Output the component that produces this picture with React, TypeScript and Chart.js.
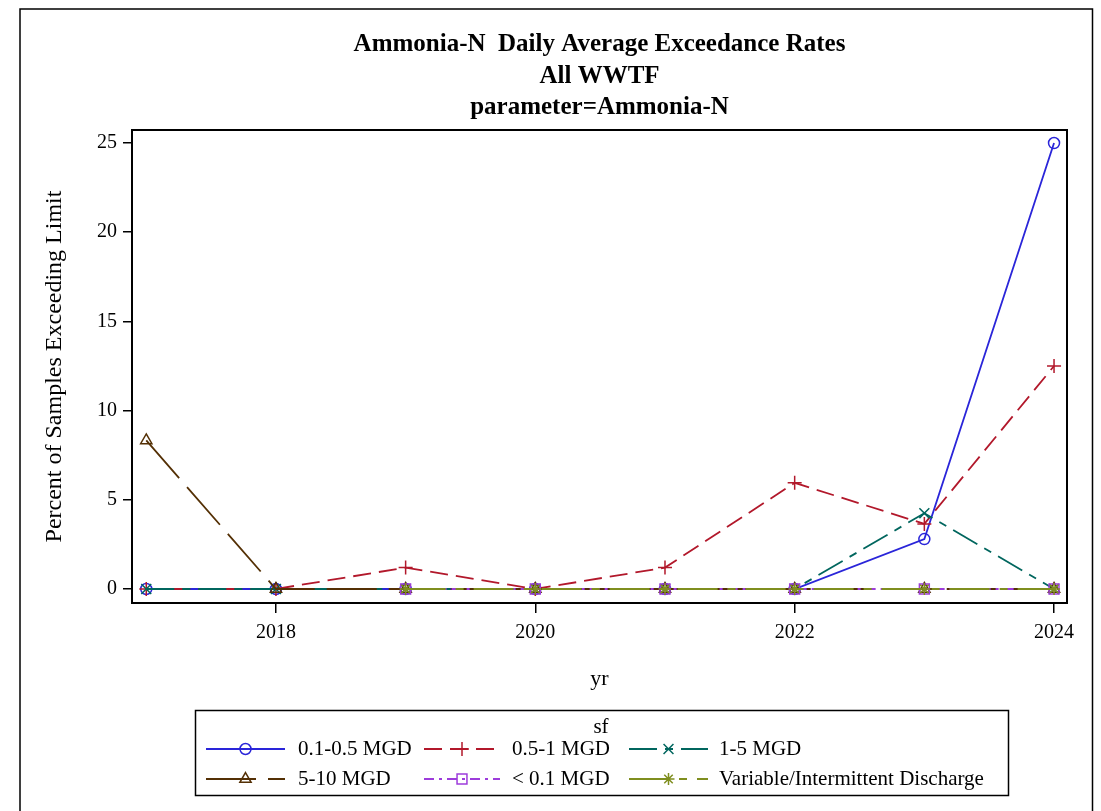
import React, { useEffect, useRef } from 'react';
import { Chart, registerables } from 'chart.js';

Chart.register(...registerables);

const years = [2017, 2018, 2019, 2020, 2021, 2022, 2023, 2024];
const seriesNames = ['0.1-0.5 MGD', '0.5-1 MGD', '1-5 MGD', '5-10 MGD', '< 0.1 MGD', 'Variable/Intermittent Discharge'];
const mgd01to05 = [0, 0, 0, 0, 0, 0, 2.8, 25];
const mgd05to1 = [0, 0, 1.2, 0, 1.2, 5.95, 3.65, 12.5];
const mgd1to5 = [0, 0, 0, 0, 0, 0, 4.25, 0];
const mgd5to10 = [8.33, 0, 0, 0, 0, 0, 0, 0];
const mgdUnder01 = [null, null, 0, 0, 0, 0, 0, 0];
const variableDischarge = [null, null, 0, 0, 0, 0, 0, 0];
const xTicks = [2018, 2020, 2022, 2024];
const yTicks = [0, 5, 10, 15, 20, 25];
const titleLines = ['Ammonia-N  Daily Average Exceedance Rates', 'All WWTF', 'parameter=Ammonia-N'];
const xTitle = 'yr';
const yTitle = 'Percent of Samples Exceeding Limit';
const legendTitle = 'sf';

const seriesValues = [mgd01to05, mgd05to1, mgd1to5, mgd5to10, mgdUnder01, variableDischarge];
const colors = ['#2A25D9', '#B2182B', '#01665E', '#543005', '#9D3CDB', '#7F8E1F'];
const dashes: number[][] = [[], [18, 8], [28, 8, 8, 8], [50, 12], [10, 5, 3, 5], [40, 10, 8, 10]];
const markers = ['circle', 'cross', 'crossRot', 'triangle', 'rect', 'star'];
const markerRadius = [5.5, 7, 7, 6.5, 7, 6];

const FONT = "'Liberation Serif', 'Times New Roman', serif";

function drawMarker(ctx: CanvasRenderingContext2D, style: string, x: number, y: number, r: number, color: string) {
  ctx.save();
  ctx.strokeStyle = color;
  ctx.lineWidth = 1.5;
  ctx.setLineDash([]);
  ctx.beginPath();
  const d = r * Math.SQRT1_2;
  if (style === 'circle') {
    ctx.arc(x, y, r, 0, Math.PI * 2);
  } else if (style === 'cross') {
    ctx.moveTo(x - r, y); ctx.lineTo(x + r, y);
    ctx.moveTo(x, y - r); ctx.lineTo(x, y + r);
  } else if (style === 'crossRot') {
    ctx.moveTo(x - d, y - d); ctx.lineTo(x + d, y + d);
    ctx.moveTo(x - d, y + d); ctx.lineTo(x + d, y - d);
  } else if (style === 'triangle') {
    ctx.moveTo(x, y - r);
    ctx.lineTo(x + r * 0.866, y + r * 0.5);
    ctx.lineTo(x - r * 0.866, y + r * 0.5);
    ctx.closePath();
  } else if (style === 'rect') {
    ctx.rect(x - d, y - d, 2 * d, 2 * d);
  } else if (style === 'star') {
    ctx.moveTo(x - r, y); ctx.lineTo(x + r, y);
    ctx.moveTo(x, y - r); ctx.lineTo(x, y + r);
    ctx.moveTo(x - d, y - d); ctx.lineTo(x + d, y + d);
    ctx.moveTo(x - d, y + d); ctx.lineTo(x + d, y - d);
  }
  ctx.stroke();
  ctx.restore();
}

const decorPlugin = {
  id: 'decor',
  afterDraw(chart: any) {
    const ctx: CanvasRenderingContext2D = chart.ctx;
    const area = chart.chartArea;
    ctx.save();
    // outer border (open at the bottom)
    ctx.strokeStyle = '#000';
    ctx.lineWidth = 1.5;
    ctx.beginPath();
    ctx.moveTo(20, 811);
    ctx.lineTo(20, 9);
    ctx.lineTo(1092.5, 9);
    ctx.lineTo(1092.5, 811);
    ctx.stroke();

    // plot frame
    ctx.lineWidth = 2;
    ctx.strokeRect(area.left, area.top, area.right - area.left, area.bottom - area.top);

    // titles
    ctx.fillStyle = '#000';
    ctx.textAlign = 'center';
    ctx.textBaseline = 'middle';
    ctx.font = `bold 25px ${FONT}`;
    const cx = (area.left + area.right) / 2;
    const ty = [45, 77, 108];
    titleLines.forEach((t, i) => ctx.fillText(t, cx, ty[i]));

    // axis titles
    ctx.font = `22px ${FONT}`;
    ctx.fillText(xTitle, cx, 679);
    ctx.font = `24px ${FONT}`;
    ctx.save();
    ctx.translate(55, (area.top + area.bottom) / 2);
    ctx.rotate(-Math.PI / 2);
    ctx.fillText(yTitle, 0, 0);
    ctx.restore();

    // legend
    ctx.lineWidth = 1.5;
    ctx.strokeRect(195.5, 710.5, 813, 85);
    ctx.font = `21px ${FONT}`;
    ctx.fillText(legendTitle, 601, 727);
    const colSample = [[206, 285], [424, 500], [629, 708]];
    const colText = [298, 512, 719];
    const rowY = [749, 779];
    seriesNames.forEach((name, i) => {
      const col = i % 3;
      const row = Math.floor(i / 3);
      const y = rowY[row];
      const [x0, x1] = colSample[col];
      ctx.save();
      ctx.strokeStyle = colors[i];
      ctx.lineWidth = 1.8;
      ctx.setLineDash(dashes[i]);
      ctx.beginPath();
      ctx.moveTo(x0, y);
      ctx.lineTo(x1, y);
      ctx.stroke();
      ctx.restore();
      drawMarker(ctx, markers[i], (x0 + x1) / 2, y, markerRadius[i], colors[i]);
      ctx.textAlign = 'left';
      ctx.fillStyle = '#000';
      ctx.fillText(name, colText[col], y);
    });
    ctx.restore();
  },
};

export default function App() {
  const canvasRef = useRef<HTMLCanvasElement>(null);

  useEffect(() => {
    const canvas = canvasRef.current;
    if (!canvas) return;
    const datasets = seriesNames.map((name, i) => ({
      label: name,
      data: years.map((yr, j) => ({ x: yr, y: seriesValues[i][j] })),
      borderColor: colors[i],
      backgroundColor: colors[i],
      borderWidth: 1.8,
      borderDash: dashes[i],
      pointStyle: markers[i],
      pointRadius: markerRadius[i],
      pointBorderWidth: 1.5,
      pointBorderColor: colors[i],
      pointBackgroundColor: 'rgba(0,0,0,0)',
      pointHoverRadius: markerRadius[i],
      tension: 0,
      fill: false,
      spanGaps: false,
      order: seriesNames.length - i,
    }));

    const chart = new Chart(canvas, {
      type: 'line',
      data: { datasets },
      options: {
        animation: false,
        responsive: false,
        maintainAspectRatio: false,
        events: [],
        layout: { padding: { left: 0, top: 130, right: 34, bottom: 0 } },
        plugins: {
          legend: { display: false },
          title: { display: false },
          tooltip: { enabled: false },
        },
        scales: {
          x: {
            type: 'linear',
            min: 2016.89,
            max: 2024.1,
            afterFit: (scale: any) => { scale.height = 208; },
            afterBuildTicks: (scale: any) => { scale.ticks = xTicks.map((v) => ({ value: v })); },
            grid: { display: true, drawOnChartArea: false, drawTicks: true, tickLength: 10, color: '#000', lineWidth: 1.5 },
            border: { display: false },
            ticks: {
              color: '#000',
              font: { family: FONT, size: 20 },
              padding: 8,
              maxRotation: 0,
              autoSkip: false,
              callback: (v: any) => String(v),
            },
          },
          y: {
            type: 'linear',
            min: -0.785,
            max: 25.73,
            afterFit: (scale: any) => { scale.width = 132; },
            afterBuildTicks: (scale: any) => { scale.ticks = yTicks.map((v) => ({ value: v })); },
            grid: { display: true, drawOnChartArea: false, drawTicks: true, tickLength: 9, color: '#000', lineWidth: 1.5 },
            border: { display: false },
            ticks: {
              color: '#000',
              font: { family: FONT, size: 20 },
              padding: 6,
              autoSkip: false,
              callback: (v: any) => String(v),
            },
          },
        },
      },
      plugins: [decorPlugin],
    });
    return () => chart.destroy();
  }, []);

  return (
    <div style={{ position: 'fixed', left: 0, top: 0, width: 1101, height: 811, background: '#fff' }}>
      <canvas ref={canvasRef} width={1101} height={811} style={{ display: 'block' }} />
    </div>
  );
}
